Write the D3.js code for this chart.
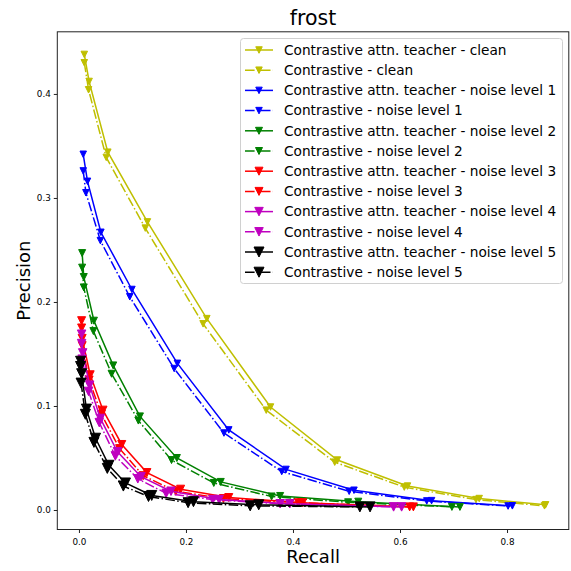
<!DOCTYPE html>
<html>
<head>
<meta charset="utf-8">
<script src="https://cdnjs.cloudflare.com/ajax/libs/d3/7.8.5/d3.min.js"></script>
<style>
  body { margin: 0; background: #fff; }
  svg { display: block; font-family: "DejaVu Sans", sans-serif; }
</style>
</head>
<body>
<div id="chart"></div>
<script>
// recall / precision pairs
var recall_teacher_clean = [0.010, 0.019, 0.054, 0.128, 0.239, 0.358, 0.483, 0.614, 0.748, 0.872]
var precision_teacher_clean = [0.438, 0.412, 0.344, 0.277, 0.184, 0.099, 0.048, 0.023, 0.011, 0.005]
var recall_clean = [0.010, 0.018, 0.051, 0.124, 0.232, 0.350, 0.478, 0.608, 0.742, 0.870]
var precision_clean = [0.430, 0.404, 0.339, 0.271, 0.179, 0.096, 0.046, 0.022, 0.010, 0.004]

var recall_teacher_n1 = [0.008, 0.016, 0.041, 0.099, 0.184, 0.280, 0.387, 0.514, 0.659, 0.810]
var precision_teacher_n1 = [0.342, 0.316, 0.267, 0.212, 0.141, 0.077, 0.039, 0.019, 0.009, 0.004]
var recall_n1 = [0.008, 0.013, 0.040, 0.095, 0.178, 0.271, 0.379, 0.505, 0.650, 0.802]
var precision_n1 = [0.326, 0.305, 0.259, 0.205, 0.136, 0.074, 0.037, 0.018, 0.0087, 0.0038]

var recall_teacher_n2 = [0.006, 0.009, 0.028, 0.064, 0.114, 0.183, 0.265, 0.376, 0.522, 0.712]
var precision_teacher_n2 = [0.247, 0.224, 0.182, 0.139, 0.090, 0.050, 0.027, 0.0135, 0.008, 0.003]
var recall_n2 = [0.006, 0.009, 0.027, 0.061, 0.111, 0.173, 0.252, 0.360, 0.503, 0.697]
var precision_n2 = [0.233, 0.214, 0.172, 0.131, 0.086, 0.048, 0.026, 0.013, 0.0074, 0.003]

var recall_teacher_n3 = [0.005, 0.006, 0.021, 0.045, 0.080, 0.127, 0.190, 0.280, 0.418, 0.625]
var precision_teacher_n3 = [0.182, 0.165, 0.130, 0.096, 0.063, 0.036, 0.020, 0.012, 0.007, 0.003]
var recall_n3 = [0.005, 0.006, 0.019, 0.042, 0.076, 0.120, 0.181, 0.270, 0.410, 0.618]
var precision_n3 = [0.175, 0.158, 0.125, 0.092, 0.059, 0.033, 0.018, 0.011, 0.007, 0.003]

var recall_teacher_n4 = [0.005, 0.007, 0.020, 0.040, 0.072, 0.116, 0.172, 0.262, 0.394, 0.603]
var precision_teacher_n4 = [0.169, 0.151, 0.120, 0.088, 0.056, 0.032, 0.018, 0.010, 0.006, 0.003]
var recall_n4 = [0.005, 0.006, 0.018, 0.038, 0.068, 0.110, 0.163, 0.250, 0.376, 0.588]
var precision_n4 = [0.160, 0.145, 0.114, 0.084, 0.052, 0.030, 0.016, 0.010, 0.006, 0.003]

var recall_teacher_n5 = [0.003, 0.005, 0.014, 0.031, 0.056, 0.087, 0.136, 0.214, 0.336, 0.544]
var precision_teacher_n5 = [0.143, 0.131, 0.097, 0.069, 0.043, 0.026, 0.014, 0.008, 0.005, 0.003]
var recall_n5 = [0.003, 0.004, 0.012, 0.028, 0.053, 0.083, 0.130, 0.204, 0.320, 0.525]
var precision_n5 = [0.138, 0.122, 0.092, 0.065, 0.040, 0.023, 0.013, 0.007, 0.004, 0.003]

var series_labels = [
  "Contrastive attn. teacher - clean",
  "Contrastive - clean",
  "Contrastive attn. teacher - noise level 1",
  "Contrastive - noise level 1",
  "Contrastive attn. teacher - noise level 2",
  "Contrastive - noise level 2",
  "Contrastive attn. teacher - noise level 3",
  "Contrastive - noise level 3",
  "Contrastive attn. teacher - noise level 4",
  "Contrastive - noise level 4",
  "Contrastive attn. teacher - noise level 5",
  "Contrastive - noise level 5"
]
var series_recall = [recall_teacher_clean, recall_clean, recall_teacher_n1, recall_n1,
  recall_teacher_n2, recall_n2, recall_teacher_n3, recall_n3,
  recall_teacher_n4, recall_n4, recall_teacher_n5, recall_n5]
var series_precision = [precision_teacher_clean, precision_clean, precision_teacher_n1, precision_n1,
  precision_teacher_n2, precision_n2, precision_teacher_n3, precision_n3,
  precision_teacher_n4, precision_n4, precision_teacher_n5, precision_n5]

var x_ticks = [0.0, 0.2, 0.4, 0.6, 0.8]
var y_ticks = [0.0, 0.1, 0.2, 0.3, 0.4]

// styling, one entry per noise level
var level_colours = ["#bfbf00", "#0000ff", "#008000", "#ff0000", "#bf00bf", "#000000"]
var level_marker = [6.5, 6.5, 7, 8, 8.5, 10]

var width = 571, height = 571
var margin = { top: 31.8, right: 2.2, bottom: 41.5, left: 57.3 }

var svg = d3.select("#chart").append("svg")
  .attr("width", width)
  .attr("height", height)

// matplotlib style 5% padding around the data
var all_x = d3.merge(series_recall), all_y = d3.merge(series_precision)
var x_ext = d3.extent(all_x), y_ext = d3.extent(all_y)
var x_pad = (x_ext[1] - x_ext[0]) * 0.05, y_pad = (y_ext[1] - y_ext[0]) * 0.05

var x = d3.scaleLinear()
  .domain([x_ext[0] - x_pad, x_ext[1] + x_pad])
  .range([margin.left, width - margin.right])
var y = d3.scaleLinear()
  .domain([y_ext[0] - y_pad, y_ext[1] + y_pad])
  .range([height - margin.bottom, margin.top])

function triangle(s) {
  var h = s / 2
  return "M" + (-h) + "," + (-h) + "L" + h + "," + (-h) + "L0," + h + "Z"
}

var plot = svg.append("g").attr("class", "plot")

var line = d3.line()
  .x(function (d) { return x(d[0]) })
  .y(function (d) { return y(d[1]) })

series_labels.forEach(function (label, i) {
  var level = Math.floor(i / 2)
  var colour = level_colours[level]
  var dashed = (i % 2 == 1)
  var pts = d3.zip(series_recall[i], series_precision[i])
  var g = plot.append("g")
  g.append("path")
    .attr("d", line(pts))
    .attr("fill", "none")
    .attr("stroke", colour)
    .attr("stroke-width", 1.5)
    .attr("stroke-dasharray", dashed ? "9.6,2.4,1.5,2.4" : null)
  g.selectAll("path.marker")
    .data(pts)
    .enter().append("path")
      .attr("class", "marker")
      .attr("d", triangle(level_marker[level]))
      .attr("transform", function (d) { return "translate(" + x(d[0]) + "," + y(d[1]) + ")" })
      .attr("fill", colour)
      .attr("stroke", colour)
      .attr("stroke-width", 1)
})

// frame
svg.append("rect")
  .attr("x", margin.left)
  .attr("y", margin.top)
  .attr("width", width - margin.left - margin.right)
  .attr("height", height - margin.top - margin.bottom)
  .attr("fill", "none")
  .attr("stroke", "#222")
  .attr("stroke-width", 1)

var x_axis = svg.append("g")
  .attr("transform", "translate(0," + (height - margin.bottom) + ")")
  .call(d3.axisBottom(x).tickValues(x_ticks).tickFormat(d3.format(".1f")).tickSizeOuter(0).tickSize(3.5).tickPadding(6))
var y_axis = svg.append("g")
  .attr("transform", "translate(" + margin.left + ",0)")
  .call(d3.axisLeft(y).tickValues(y_ticks).tickFormat(d3.format(".1f")).tickSizeOuter(0).tickSize(3.5).tickPadding(3))
;[x_axis, y_axis].forEach(function (a) {
  a.select(".domain").remove()
  a.selectAll("line").attr("stroke", "#222")
  a.selectAll("text").attr("font-size", 8.8).attr("fill", "#000")
    .attr("font-family", "DejaVu Sans")
})

svg.append("text")
  .attr("x", (margin.left + width - margin.right) / 2)
  .attr("y", 25)
  .attr("text-anchor", "middle")
  .attr("font-size", 20.5)
  .text("frost")

svg.append("text")
  .attr("x", (margin.left + width - margin.right) / 2)
  .attr("y", 563)
  .attr("text-anchor", "middle")
  .attr("font-size", 18)
  .text("Recall")

svg.append("text")
  .attr("transform", "translate(30," + ((margin.top + height - margin.bottom) / 2) + ") rotate(-90)")
  .attr("text-anchor", "middle")
  .attr("font-size", 18)
  .text("Precision")

// legend
var legend = svg.append("g").attr("class", "legend")
legend.append("rect")
  .attr("x", 240.5)
  .attr("y", 38.5)
  .attr("width", 322)
  .attr("height", 245)
  .attr("rx", 3)
  .attr("fill", "#fff")
  .attr("fill-opacity", 0.8)
  .attr("stroke", "#d0d0d0")

series_labels.forEach(function (label, i) {
  var level = Math.floor(i / 2)
  var colour = level_colours[level]
  var ly = 50 + i * 20.2
  var row = legend.append("g")
  row.append("line")
    .attr("x1", 245).attr("x2", 273)
    .attr("y1", ly).attr("y2", ly)
    .attr("stroke", colour)
    .attr("stroke-width", 1.5)
    .attr("stroke-dasharray", (i % 2 == 1) ? "9.6,2.4,1.5,2.4" : null)
  row.append("path")
    .attr("d", triangle(level_marker[level]))
    .attr("transform", "translate(259," + ly + ")")
    .attr("fill", colour)
    .attr("stroke", colour)
  row.append("text")
    .attr("x", 284)
    .attr("y", ly)
    .attr("dy", "0.35em")
    .attr("font-size", 13.7)
    .text(label)
})
</script>
</body>
</html>
